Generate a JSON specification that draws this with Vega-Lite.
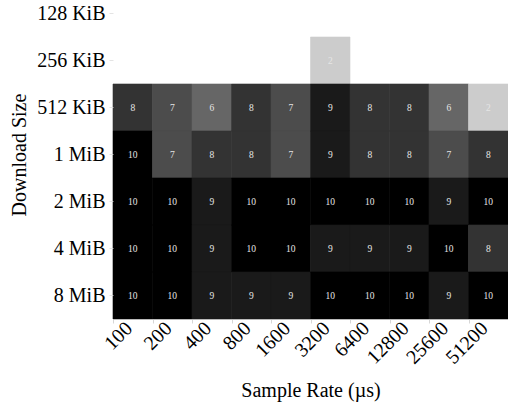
{
  "$schema": "https://vega.github.io/schema/vega-lite/v6.json",
  "width": 395,
  "height": 329,
  "autosize": {"type": "none"},
  "padding": {"left": 113, "top": -10, "right": 0, "bottom": 83},
  "background": "white",
  "config": {
    "view": {"stroke": null},
    "font": "Liberation Serif",
    "axis": {"labelFont": "Liberation Serif", "titleFont": "Liberation Serif", "titleFontWeight": "normal", "labelColor": "black", "titleColor": "black"}
  },
  "data": {
    "values": [
      {"size": "256 KiB", "rate": "3200", "n": 2},
      {"size": "512 KiB", "rate": "100", "n": 8},
      {"size": "512 KiB", "rate": "200", "n": 7},
      {"size": "512 KiB", "rate": "400", "n": 6},
      {"size": "512 KiB", "rate": "800", "n": 8},
      {"size": "512 KiB", "rate": "1600", "n": 7},
      {"size": "512 KiB", "rate": "3200", "n": 9},
      {"size": "512 KiB", "rate": "6400", "n": 8},
      {"size": "512 KiB", "rate": "12800", "n": 8},
      {"size": "512 KiB", "rate": "25600", "n": 6},
      {"size": "512 KiB", "rate": "51200", "n": 2},
      {"size": "1 MiB", "rate": "100", "n": 10},
      {"size": "1 MiB", "rate": "200", "n": 7},
      {"size": "1 MiB", "rate": "400", "n": 8},
      {"size": "1 MiB", "rate": "800", "n": 8},
      {"size": "1 MiB", "rate": "1600", "n": 7},
      {"size": "1 MiB", "rate": "3200", "n": 9},
      {"size": "1 MiB", "rate": "6400", "n": 8},
      {"size": "1 MiB", "rate": "12800", "n": 8},
      {"size": "1 MiB", "rate": "25600", "n": 7},
      {"size": "1 MiB", "rate": "51200", "n": 8},
      {"size": "2 MiB", "rate": "100", "n": 10},
      {"size": "2 MiB", "rate": "200", "n": 10},
      {"size": "2 MiB", "rate": "400", "n": 9},
      {"size": "2 MiB", "rate": "800", "n": 10},
      {"size": "2 MiB", "rate": "1600", "n": 10},
      {"size": "2 MiB", "rate": "3200", "n": 10},
      {"size": "2 MiB", "rate": "6400", "n": 10},
      {"size": "2 MiB", "rate": "12800", "n": 10},
      {"size": "2 MiB", "rate": "25600", "n": 9},
      {"size": "2 MiB", "rate": "51200", "n": 10},
      {"size": "4 MiB", "rate": "100", "n": 10},
      {"size": "4 MiB", "rate": "200", "n": 10},
      {"size": "4 MiB", "rate": "400", "n": 9},
      {"size": "4 MiB", "rate": "800", "n": 10},
      {"size": "4 MiB", "rate": "1600", "n": 10},
      {"size": "4 MiB", "rate": "3200", "n": 9},
      {"size": "4 MiB", "rate": "6400", "n": 9},
      {"size": "4 MiB", "rate": "12800", "n": 9},
      {"size": "4 MiB", "rate": "25600", "n": 10},
      {"size": "4 MiB", "rate": "51200", "n": 8},
      {"size": "8 MiB", "rate": "100", "n": 10},
      {"size": "8 MiB", "rate": "200", "n": 10},
      {"size": "8 MiB", "rate": "400", "n": 9},
      {"size": "8 MiB", "rate": "800", "n": 9},
      {"size": "8 MiB", "rate": "1600", "n": 9},
      {"size": "8 MiB", "rate": "3200", "n": 10},
      {"size": "8 MiB", "rate": "6400", "n": 10},
      {"size": "8 MiB", "rate": "12800", "n": 10},
      {"size": "8 MiB", "rate": "25600", "n": 9},
      {"size": "8 MiB", "rate": "51200", "n": 10}
    ]
  },
  "encoding": {
    "x": {
      "field": "rate", "type": "ordinal",
      "scale": {"domain": ["100","200","400","800","1600","3200","6400","12800","25600","51200"], "paddingInner": 0, "paddingOuter": 0},
      "axis": {
        "title": "Sample Rate (µs)", "titleFontSize": 20, "titlePadding": 13,
        "labelFontSize": 20, "labelAngle": -45, "labelAlign": "right", "labelBaseline": "middle",
        "labelPadding": 2, "labelOffset": -4, "tickBand": "extent", "tickColor": "#cccccc", "tickSize": 4, "tickWidth": 0.8,
        "domainColor": "#bbbbbb", "domainWidth": 0.8
      }
    },
    "y": {
      "field": "size", "type": "ordinal",
      "scale": {"domain": ["128 KiB","256 KiB","512 KiB","1 MiB","2 MiB","4 MiB","8 MiB"], "paddingInner": 0, "paddingOuter": 0},
      "axis": {
        "title": "Download Size", "titleFontSize": 20, "titlePadding": 7,
        "labelFontSize": 20, "labelPadding": 4, "tickColor": "#dddddd", "tickSize": 4, "tickWidth": 0.8,
        "domain": false
      }
    }
  },
  "layer": [
    {
      "mark": {"type": "rect", "strokeWidth": 0.6},
      "encoding": {
        "color": {"field": "n", "type": "quantitative", "scale": {"domain": [0, 10], "range": ["#ffffff", "#000000"], "interpolate": "rgb"}, "legend": null},
        "stroke": {"field": "n", "type": "quantitative", "scale": {"domain": [0, 10], "range": ["#ffffff", "#000000"], "interpolate": "rgb"}, "legend": null}
      }
    },
    {
      "mark": {"type": "text", "fontSize": 9.5, "color": "#e6e6e6", "font": "Liberation Serif"},
      "encoding": {"text": {"field": "n", "type": "quantitative"}}
    }
  ]
}
